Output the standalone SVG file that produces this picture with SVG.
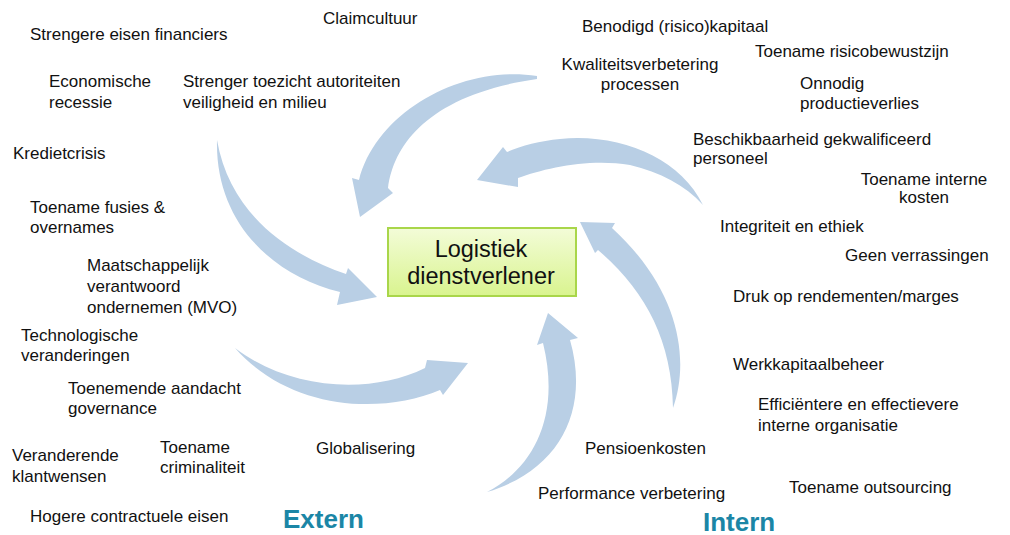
<svg xmlns="http://www.w3.org/2000/svg" width="1010" height="535" viewBox="0 0 1010 535">
<defs>
<linearGradient id="boxg" x1="0" y1="0" x2="0" y2="1">
<stop offset="0" stop-color="#f3fcd8"/>
<stop offset="1" stop-color="#d9f48f"/>
</linearGradient>
<style>
.t{font-family:"Liberation Sans",Arial,sans-serif;font-size:17px;fill:#111}
.m{text-anchor:middle}
.h{font-family:"Liberation Sans",Arial,sans-serif;font-size:26px;font-weight:bold;fill:#1b86a6}
.a{fill:#b9cfe5}
.bt{font-family:"Liberation Sans",Arial,sans-serif;font-size:23.5px;fill:#111;text-anchor:middle}
</style>
</defs>
<rect width="1010" height="535" fill="#fff"/>
<g id="connectors">
<path class="a" d="M537,76 C462,64 376,112 359,180 L352,178 L360,217 L393,193 L388,188 C394,142 432,94 537,79 Z"/>
<path class="a" d="M703,205 C680,158 620,133 560,139 C540,141 520,146 507,152 L503,147 L477,180 L518,187 L518,178 C545,168 590,158 630,165 C660,172 685,185 703,205 Z"/>
<path class="a" d="M673,408 C690,360 680,290 612,228 L615,223 L580,222 L595,253 L598,250 C645,290 672,340 673,408 Z"/>
<path class="a" d="M487,492 C530,470 562,420 543,343 L537,345 L548,313 L578,338 L570,340 C590,410 560,470 487,492 Z"/>
<path class="a" d="M235,348 C290,390 370,395 425,368 L427,360 L468,363 L443,395 L440,390 C380,415 290,410 235,348 Z"/>
<path class="a" d="M217,140 C215,220 270,275 340,292 L337,305 L377,297 L348,268 L346,274 C290,255 230,215 217,140 Z"/>
</g>
<g id="center">
<rect x="388" y="228" width="188" height="68" fill="url(#boxg)" stroke="#a9d64a" stroke-width="2"/>
<text class="bt" x="481" y="257">Logistiek</text>
<text class="bt" x="481" y="284">dienstverlener</text>
</g>
<g id="extern">
<text class="t" x="30" y="40">Strengere eisen financiers</text>
<text class="t" x="323" y="24">Claimcultuur</text>
<text class="t" x="49" y="87">Economische</text>
<text class="t" x="49" y="108">recessie</text>
<text class="t" x="183" y="87">Strenger toezicht autoriteiten</text>
<text class="t" x="183" y="108">veiligheid en milieu</text>
<text class="t" x="13" y="159">Kredietcrisis</text>
<text class="t" x="30" y="213">Toename fusies &amp;</text>
<text class="t" x="30" y="233">overnames</text>
<text class="t" x="87" y="271">Maatschappelijk</text>
<text class="t" x="87" y="292">verantwoord</text>
<text class="t" x="87" y="313">ondernemen (MVO)</text>
<text class="t" x="21" y="341">Technologische</text>
<text class="t" x="21" y="361">veranderingen</text>
<text class="t" x="68" y="394">Toenemende aandacht</text>
<text class="t" x="68" y="414">governance</text>
<text class="t" x="12" y="461">Veranderende</text>
<text class="t" x="12" y="482">klantwensen</text>
<text class="t" x="160" y="453">Toename</text>
<text class="t" x="160" y="473">criminaliteit</text>
<text class="t" x="316" y="454">Globalisering</text>
<text class="t" x="30" y="522">Hogere contractuele eisen</text>
<text class="h" x="283" y="528">Extern</text>
</g>
<g id="intern">
<text class="t" x="582" y="32">Benodigd (risico)kapitaal</text>
<text class="t" x="755" y="57">Toename risicobewustzijn</text>
<text class="t m" x="640" y="70">Kwaliteitsverbetering</text>
<text class="t m" x="640" y="90">processen</text>
<text class="t" x="800" y="89">Onnodig</text>
<text class="t" x="800" y="109">productieverlies</text>
<text class="t" x="693" y="145">Beschikbaarheid gekwalificeerd</text>
<text class="t" x="693" y="164">personeel</text>
<text class="t m" x="924" y="185">Toename interne</text>
<text class="t m" x="924" y="203">kosten</text>
<text class="t" x="720" y="232">Integriteit en ethiek</text>
<text class="t" x="845" y="261">Geen verrassingen</text>
<text class="t" x="733" y="302">Druk op rendementen/marges</text>
<text class="t" x="733" y="370">Werkkapitaalbeheer</text>
<text class="t" x="758" y="410">Efficiëntere en effectievere</text>
<text class="t" x="758" y="431">interne organisatie</text>
<text class="t" x="585" y="454">Pensioenkosten</text>
<text class="t" x="538" y="499">Performance verbetering</text>
<text class="t" x="789" y="493">Toename outsourcing</text>
<text class="h" x="703" y="531">Intern</text>
</g>
</svg>
